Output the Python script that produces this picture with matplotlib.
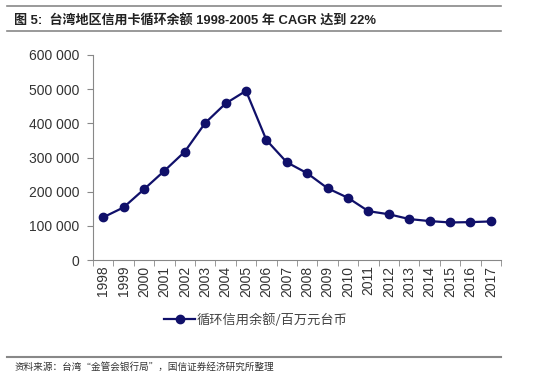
import matplotlib.pyplot as plt
from matplotlib.ticker import FuncFormatter, FixedLocator

plt.rcParams['font.family'] = ['Liberation Sans', 'Noto Sans CJK SC', 'DejaVu Sans']

years = [str(y) for y in range(1998, 2018)]
balance = [125000, 154000, 207000, 261000, 317000, 401000, 458000, 495000,
           351000, 286000, 254000, 210000, 182000, 143000, 134000, 120000,
           114000, 110000, 111000, 113000]

title = "图 5:  台湾地区信用卡循环余额 1998-2005 年 CAGR 达到 22%"
series_label = "循环信用余额/百万元台币"
source = "资料来源：台湾“金管会银行局”，国信证券经济研究所整理"

navy = "#10106a"
gray = "#888888"

fig = plt.figure(figsize=(5.5, 3.87), dpi=100)
ax = fig.add_axes([0.169, 0.328, 0.742, 0.530])

x = list(range(len(years)))
ax.plot(x, balance, "o-", color=navy, markersize=6, linewidth=1.6, label=series_label)

ax.set_xlim(-0.5, len(years) - 0.5)
ax.set_ylim(0, 600000)
ax.set_yticks(range(0, 600001, 100000))
ax.yaxis.set_major_formatter(FuncFormatter(lambda v, p: f"{int(v):,}".replace(",", " ")))
ax.set_xticks(x)
ax.set_xticklabels(years, rotation=90)
ax.xaxis.set_minor_locator(FixedLocator([i - 0.5 for i in range(len(years) + 1)]))
ax.tick_params(axis="x", which="major", length=0, pad=4, labelsize=10, labelcolor="#333333")
ax.tick_params(axis="x", which="minor", length=4, direction="out", color=gray)
ax.tick_params(axis="y", length=4, direction="out", color=gray, labelsize=10, pad=6,
               labelcolor="#333333")

for s in ["top", "right"]:
    ax.spines[s].set_visible(False)
for s in ["left", "bottom"]:
    ax.spines[s].set_color(gray)
    ax.spines[s].set_linewidth(0.8)

leg = fig.legend(loc="center", bbox_to_anchor=(0.465, 0.173), frameon=False,
                 fontsize=9.5, handlelength=2.3, handletextpad=0.1)
for t in leg.get_texts():
    t.set_color("#444444")
    t.set_family(["Noto Sans CJK SC", "DejaVu Sans"])

fig.text(0.025, 0.948, title, fontsize=9.4, fontweight="bold", color="#222222",
         va="center", family=["Liberation Sans", "Noto Sans CJK SC"])
fig.add_artist(plt.Line2D([0.013, 0.91], [0.985, 0.985], color=gray, linewidth=1.2))
fig.add_artist(plt.Line2D([0.013, 0.91], [0.92, 0.92], color=gray, linewidth=1.2))
fig.add_artist(plt.Line2D([0.013, 0.91], [0.078, 0.078], color=gray, linewidth=1.5))
fig.text(0.027, 0.051, source, fontsize=6.9, color="#333333", va="center",
         family=["Noto Sans CJK SC", "DejaVu Sans"])

fig.savefig("out.png", dpi=100)
